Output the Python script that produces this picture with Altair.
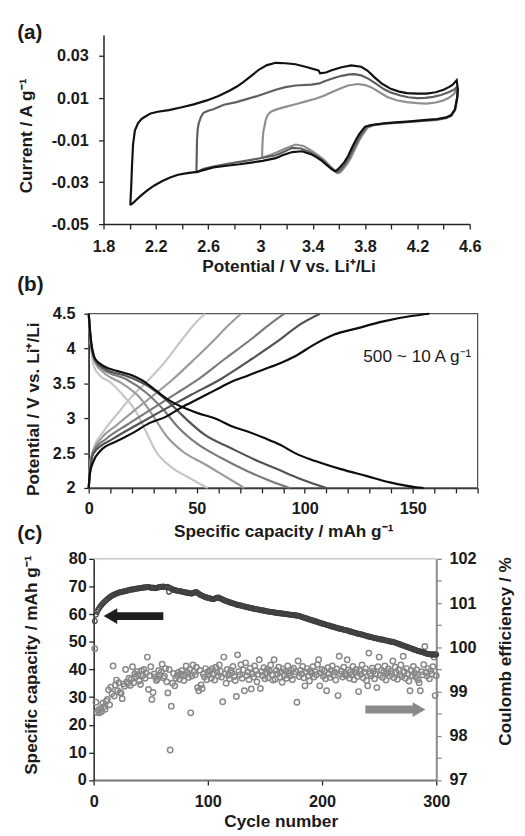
import altair as alt
import pandas as pd

W, H = 517, 828
FONT = "Liberation Sans"
TXT = "#1a1a1a"

# ---------------- (a) cyclic voltammetry ----------------
a_loops = ["3.0-4.5 V", "2.5-4.5 V", "2.0-4.5 V"]
a_colors = ["#8f8f8f", "#5f5f5f", "#111111"]

a_v_20 = [2.005, 2.012, 2.018, 2.026, 2.04, 2.063, 2.09, 2.114, 2.16, 2.214, 2.30, 2.39, 2.49, 2.59,
          2.68, 2.766, 2.82, 2.866, 2.93, 2.99, 3.05, 3.117, 3.19, 3.268, 3.35, 3.443, 3.456, 3.50,
          3.544, 3.62, 3.694, 3.77, 3.82, 3.87, 3.93, 3.996, 4.06, 4.12, 4.20, 4.27, 4.34, 4.40,
          4.44, 4.47, 4.50,
          4.51, 4.505, 4.485, 4.455, 4.42, 4.35, 4.27, 4.12, 4.03, 3.945, 3.845, 3.80, 3.78, 3.755,
          3.73, 3.70, 3.67, 3.64, 3.606, 3.585, 3.57, 3.544, 3.51, 3.47, 3.43, 3.39, 3.318, 3.243,
          3.168, 3.117, 3.017, 2.93, 2.84, 2.74, 2.64, 2.515, 2.44, 2.37, 2.314, 2.25, 2.189, 2.14,
          2.088, 2.05, 2.025, 2.013, 2.005]
a_i_20 = [-0.0410, -0.0320, -0.0220, -0.0120, -0.0055, -0.0020, 0.0000, 0.0010, 0.0027, 0.0035,
          0.0043, 0.0055, 0.0070, 0.0089, 0.0110, 0.0136, 0.0155, 0.0175, 0.0206, 0.0236, 0.0257,
          0.0268, 0.0266, 0.0261, 0.0248, 0.0232, 0.0218, 0.0222, 0.0233, 0.0247, 0.0256, 0.0249,
          0.0230, 0.0200, 0.0168, 0.0144, 0.0131, 0.0124, 0.0121, 0.0121, 0.0128, 0.0140, 0.0152,
          0.0164, 0.0185,
          0.0140, 0.0105, 0.0043, 0.0018, 0.0008, 0.0000, -0.0004, -0.0012, -0.0016, -0.0020,
          -0.0028, -0.0036, -0.0051, -0.0072, -0.0098, -0.0135, -0.0176, -0.0206, -0.0230, -0.0243,
          -0.0247, -0.0238, -0.0220, -0.0199, -0.0182, -0.0168, -0.0153, -0.0157, -0.0172, -0.0186,
          -0.0199, -0.0207, -0.0215, -0.0222, -0.0230, -0.0251, -0.0257, -0.0265, -0.0277, -0.0295,
          -0.0316, -0.0337, -0.0363, -0.0385, -0.0400, -0.0405, -0.0410]

a_v_25 = [2.51, 2.512, 2.515, 2.52, 2.528, 2.545, 2.565, 2.60, 2.64, 2.72, 2.816, 2.967, 3.05, 3.117,
          3.19, 3.268, 3.39, 3.45, 3.49, 3.55, 3.62, 3.68, 3.72, 3.77, 3.82, 3.88, 3.945, 4.00, 4.07,
          4.13, 4.196, 4.26, 4.32, 4.38, 4.447, 4.48, 4.50,
          4.505, 4.49, 4.46, 4.42, 4.35, 4.27, 4.12, 3.96, 3.86, 3.81, 3.79, 3.765, 3.74, 3.71, 3.68,
          3.65, 3.62, 3.597, 3.582, 3.56, 3.52, 3.48, 3.43, 3.38, 3.31, 3.243, 3.18, 3.117, 3.017,
          2.93, 2.84, 2.74, 2.64, 2.56, 2.51]
a_i_25 = [-0.0254, -0.0200, -0.0098, -0.0050, -0.0020, 0.0010, 0.0030, 0.0040, 0.0047, 0.0068,
          0.0081, 0.0108, 0.0125, 0.0140, 0.0152, 0.0160, 0.0164, 0.0170, 0.0180, 0.0193, 0.0206,
          0.0213, 0.0214, 0.0208, 0.0194, 0.0170, 0.0142, 0.0126, 0.0112, 0.0104, 0.0100, 0.0101,
          0.0106, 0.0115, 0.0130, 0.0140, 0.0152,
          0.0110, 0.0050, 0.0018, 0.0006, -0.0002, -0.0006, -0.0014, -0.0021, -0.0028, -0.0038,
          -0.0055, -0.0078, -0.0105, -0.0142, -0.0182, -0.0212, -0.0236, -0.0250, -0.0254, -0.0244,
          -0.0222, -0.0198, -0.0176, -0.0158, -0.0140, -0.0137, -0.0155, -0.0172, -0.0184, -0.0194,
          -0.0204, -0.0214, -0.0226, -0.0238, -0.0254]

a_v_30 = [3.012, 3.014, 3.017, 3.022, 3.03, 3.04, 3.055, 3.08, 3.117, 3.19, 3.268, 3.34, 3.42, 3.48,
          3.544, 3.61, 3.67, 3.744, 3.80, 3.845, 3.91, 3.97, 4.04, 4.12, 4.20, 4.27, 4.34, 4.40, 4.45,
          4.48, 4.50,
          4.505, 4.49, 4.46, 4.42, 4.35, 4.27, 4.12, 3.96, 3.87, 3.82, 3.80, 3.775, 3.75, 3.72, 3.69,
          3.66, 3.63, 3.61, 3.594, 3.57, 3.53, 3.49, 3.44, 3.39, 3.33, 3.268, 3.19, 3.117, 3.06, 3.012]
a_i_30 = [-0.0184, -0.0140, -0.0098, -0.0060, -0.0036, -0.0005, 0.0019, 0.0035, 0.0045, 0.0058,
          0.0071, 0.0083, 0.0097, 0.0110, 0.0128, 0.0146, 0.0160, 0.0167, 0.0162, 0.0152, 0.0128,
          0.0105, 0.0090, 0.0081, 0.0076, 0.0074, 0.0079, 0.0089, 0.0105, 0.0121, 0.0140,
          0.0100, 0.0045, 0.0015, 0.0004, -0.0004, -0.0008, -0.0015, -0.0022, -0.0029, -0.0040,
          -0.0058, -0.0080, -0.0108, -0.0146, -0.0186, -0.0216, -0.0240, -0.0253, -0.0257, -0.0246,
          -0.0222, -0.0196, -0.0172, -0.0150, -0.0128, -0.0121, -0.0140, -0.0160, -0.0174, -0.0184]

a_xticks = [1.8, 2.0, 2.2, 2.4, 2.6, 2.8, 3.0, 3.2, 3.4, 3.6, 3.8, 4.0, 4.2, 4.4, 4.6]
a_yticks = [-0.05, -0.03, -0.01, 0.01, 0.03]

# ---------------- (b) charge / discharge ----------------
b_rates = ["r1", "r2", "r3", "r4", "r5"]
b_colors = ["#c6c6c6", "#9c9c9c", "#7a7a7a", "#525252", "#0d0d0d"]

b_c1_cap = [0, 0.4, 0.8, 2.3, 6.8, 12.9, 20.5, 28, 35.6, 43.2, 49.2, 53.8]
b_c1_v = [2.0, 2.2, 2.39, 2.57, 2.81, 3.05, 3.33, 3.56, 3.82, 4.13, 4.36, 4.5]
b_c2_cap = [0, 0.6, 2, 6, 12.9, 21, 30, 39, 48, 58.3, 64.5, 70.5]
b_c2_v = [2.0, 2.27, 2.52, 2.72, 2.90, 3.11, 3.33, 3.56, 3.82, 4.13, 4.33, 4.5]
b_c3_cap = [0, 0.8, 2.3, 8.3, 17.4, 28, 40.2, 50.8, 62.9, 75, 83, 90.5]
b_c3_v = [2.0, 2.3, 2.53, 2.71, 2.90, 3.11, 3.35, 3.56, 3.85, 4.13, 4.33, 4.5]
b_c4_cap = [0, 0.7, 2.3, 11.5, 22, 34, 47, 61, 74, 88.6, 97, 107]
b_c4_v = [2.0, 2.28, 2.5, 2.71, 2.90, 3.11, 3.33, 3.56, 3.82, 4.13, 4.33, 4.5]
b_c5_cap = [0, 0.5, 2.3, 5.3, 12.9, 20.5, 28, 35.6, 43.2, 50.8, 58.3, 65.9, 73.5, 81, 88.6, 95.5,
            104.5, 113.6, 124.2, 136.4, 150, 157.6]
b_c5_v = [2.0, 2.2, 2.39, 2.53, 2.67, 2.79, 2.93, 3.02, 3.16, 3.28, 3.40, 3.52, 3.61, 3.70, 3.79,
          3.89, 4.06, 4.20, 4.29, 4.39, 4.47, 4.5]

b_d1_cap = [0, 0.8, 2.3, 5.3, 9.8, 15.9, 22, 26.5, 31, 38.6, 46.2, 53.8, 55]
b_d1_v = [4.5, 4.13, 3.75, 3.61, 3.52, 3.33, 3.09, 2.81, 2.53, 2.29, 2.15, 2.02, 2.0]
b_d2_cap = [0, 1, 3, 6.8, 15.9, 23.5, 29.5, 35.6, 43.2, 53.8, 62.9, 72]
b_d2_v = [4.5, 4.05, 3.8, 3.66, 3.49, 3.30, 3.05, 2.76, 2.53, 2.34, 2.17, 2.0]
b_d3_cap = [0, 1, 3, 6.8, 17.4, 26.5, 34.1, 41.7, 50.8, 61.4, 73.5, 84.1, 93]
b_d3_v = [4.5, 4.08, 3.82, 3.70, 3.56, 3.37, 3.14, 2.86, 2.62, 2.43, 2.24, 2.10, 2.0]
b_d4_cap = [0, 1, 3, 6.8, 18.9, 28, 37.1, 44.7, 53.8, 65.9, 78, 88, 98, 110]
b_d4_v = [4.5, 4.1, 3.84, 3.72, 3.59, 3.45, 3.23, 3.00, 2.76, 2.57, 2.39, 2.26, 2.13, 2.0]
b_d5_cap = [0, 1, 3, 6.8, 12.9, 20.5, 25, 31, 37.1, 43.2, 50.8, 58.3, 65.9, 73.5, 81, 88.6, 95.5,
            104.5, 116.7, 128.8, 139.4, 151.5, 155]
b_d5_v = [4.5, 4.13, 3.85, 3.75, 3.68, 3.61, 3.54, 3.40, 3.26, 3.16, 3.07, 3.00, 2.89, 2.81, 2.72,
          2.62, 2.50, 2.39, 2.27, 2.17, 2.08, 2.01, 2.0]

b_xticks = [0, 10, 20, 30, 40, 50, 60, 70, 80, 90, 100, 110, 120, 130, 140, 150, 160, 170, 180]
b_yticks = [2.0, 2.5, 3.0, 3.5, 4.0, 4.5]

# ---------------- (c) cycling ----------------
c_capacity = [
    57.5, 59.8, 60.8, 61.6, 62.3, 62.9, 63.4, 63.9, 64.3, 64.7,
    65.1, 65.4, 65.8, 66.1, 66.4, 66.7, 66.9, 67.1, 67.3, 67.5,
    67.6, 67.8, 67.9, 68.0, 68.1, 68.2, 68.3, 68.4, 68.5, 68.6,
    68.7, 68.8, 68.9, 69.0, 69.0, 69.1, 69.2, 69.3, 69.3, 69.4,
    69.5, 69.5, 69.6, 69.6, 69.7, 69.7, 69.8, 69.8, 69.7, 69.6,
    69.5, 69.6, 69.5, 69.4, 69.5, 69.6, 69.7, 69.8, 69.9, 69.9,
    70.0, 69.9, 69.8, 69.7, 69.9, 68.1, 69.5, 69.2, 69.0, 68.8,
    68.7, 68.6, 68.5, 68.4, 68.3, 68.3, 68.2, 68.1, 68.0, 67.9,
    67.8, 67.7, 67.7, 67.6, 67.5, 67.5, 67.6, 67.8, 67.9, 68.0,
    67.7, 67.4, 67.1, 66.9, 66.7, 66.5, 66.3, 66.2, 66.0, 65.9,
    65.8, 65.7, 65.6, 65.5, 65.5, 65.6, 65.8, 65.9, 66.0, 65.9,
    65.7, 65.5, 65.3, 65.1, 64.9, 64.8, 64.6, 64.5, 64.3, 64.2,
    64.0, 63.9, 63.8, 63.6, 63.5, 63.4, 63.3, 63.2, 63.1, 63.0,
    62.9, 62.8, 62.7, 62.6, 62.5, 62.4, 62.3, 62.2, 62.1, 62.0,
    61.9, 61.8, 61.8, 61.7, 61.6, 61.5, 61.4, 61.4, 61.3, 61.2,
    61.1, 61.0, 61.0, 60.9, 60.8, 60.8, 60.7, 60.6, 60.6, 60.5,
    60.4, 60.4, 60.3, 60.3, 60.2, 60.2, 60.1, 60.1, 60.0, 60.0,
    59.9, 59.8, 59.8, 59.7, 59.7, 59.6, 59.6, 59.5, 59.4, 59.3,
    59.2, 59.0, 58.9, 58.8, 58.6, 58.5, 58.4, 58.2, 58.1, 58.0,
    57.8, 57.7, 57.6, 57.4, 57.3, 57.2, 57.0, 56.9, 56.8, 56.6,
    56.5, 56.4, 56.3, 56.1, 56.0, 55.9, 55.8, 55.6, 55.5, 55.4,
    55.3, 55.2, 55.0, 54.9, 54.8, 54.7, 54.6, 54.5, 54.4, 54.3,
    54.2, 54.1, 54.0, 53.8, 53.7, 53.6, 53.5, 53.4, 53.2, 53.1,
    53.0, 52.9, 52.8, 52.7, 52.6, 52.5, 52.4, 52.2, 52.1, 52.0,
    51.9, 51.8, 51.7, 51.6, 51.5, 51.4, 51.3, 51.2, 51.1, 51.0,
    50.9, 50.8, 50.8, 50.7, 50.6, 50.5, 50.4, 50.3, 50.2, 50.1,
    50.0, 50.0, 49.9, 49.7, 49.6, 49.4, 49.3, 49.1, 49.0, 48.8,
    48.7, 48.5, 48.4, 48.2, 48.1, 47.9, 47.8, 47.6, 47.5, 47.3,
    47.2, 47.0, 46.9, 46.7, 46.6, 46.5, 46.4, 46.3, 46.1, 46.0,
    45.8, 45.7, 45.6, 45.5, 45.5, 45.4, 45.4, 45.5, 45.4, 45.4,
]
c_efficiency = [
    99.97, 98.76, 98.53, 98.58, 98.52, 98.62, 98.55, 98.74, 98.66, 98.60,
    98.78, 98.82, 99.04, 98.70, 99.10, 98.95, 99.58, 98.90, 99.15, 99.26,
    99.02, 99.20, 98.98, 98.96, 98.84, 99.17, 99.12, 99.50, 99.22, 99.18,
    99.30, 99.14, 99.28, 99.56, 99.20, 99.40, 99.34, 99.45, 99.38, 99.24,
    99.16, 99.47, 99.36, 99.50, 99.30, 99.42, 99.78, 99.05, 99.36, 99.56,
    98.82, 98.98, 99.40, 99.33, 99.25, 99.29, 99.48, 99.37, 99.44, 99.62,
    99.31, 99.35, 99.52, 99.22, 98.97, 99.50, 97.68, 98.67, 99.19, 99.41,
    99.13, 99.30, 99.36, 99.43, 99.28, 99.40, 99.47, 99.35, 99.25, 99.38,
    99.58, 99.44, 99.32, 99.50, 98.52, 99.35, 99.60, 99.45, 99.38, 99.55,
    99.09, 99.02, 99.48, 99.15, 99.07, 99.40, 99.33, 99.52, 99.27, 99.45,
    99.38, 99.47, 99.30, 99.52, 99.41, 99.26, 99.55, 99.44, 99.35, 99.60,
    99.46, 99.33, 98.77, 99.78, 99.40, 99.19, 99.50, 99.37, 99.29, 99.48,
    99.42, 99.57, 99.34, 99.25, 98.89, 99.83, 99.45, 99.38, 99.61, 99.30,
    99.49, 99.02, 99.65, 99.36, 99.44, 99.27, 99.53, 99.06, 99.40, 99.33,
    99.58, 99.47, 99.22, 99.39, 99.72, 99.07, 99.45, 99.36, 99.54, 99.29,
    99.43, 99.50, 99.31, 99.46, 99.60, 99.38, 99.26, 99.72, 99.28, 99.48,
    99.40, 99.55, 99.33, 99.44, 99.21, 99.51, 99.37, 99.46, 99.30, 99.58,
    99.42, 99.35, 99.49, 99.27, 99.53, 99.39, 99.45, 98.76, 99.69, 99.34,
    99.48, 99.40, 99.57, 99.31, 99.13, 99.44, 99.52, 99.36, 99.24, 99.47,
    99.41, 99.56, 99.33, 99.45, 99.38, 99.61, 99.72, 99.13, 99.42, 99.50,
    99.35, 99.47, 99.29, 99.02, 99.54, 99.40, 99.32, 99.48, 99.58, 99.37,
    99.44, 99.26, 99.51, 98.91, 99.80, 99.39, 99.46, 99.33, 99.55, 99.41,
    99.36, 99.72, 99.49, 99.30, 99.45, 99.38, 99.57, 99.27, 99.43, 99.50,
    99.34, 99.00, 99.47, 99.39, 99.60, 99.31, 99.44, 99.52, 99.25, 99.13,
    99.87, 99.41, 99.36, 99.53, 99.46, 99.29, 99.40, 99.09, 99.56, 99.78,
    99.37, 99.48, 99.32, 99.44, 99.58, 99.26, 99.42, 99.51, 99.35, 99.46,
    99.39, 99.69, 99.31, 99.55, 99.43, 99.28, 99.49, 99.38, 99.60, 99.34,
    99.80, 99.45, 99.30, 99.52, 99.40, 99.24, 99.02, 99.47, 99.36, 99.57,
    99.42, 99.33, 99.49, 99.27, 99.20, 99.02, 99.45, 99.38, 99.61, 100.02,
    99.43, 99.35, 99.52, 99.29, 99.47, 99.40, 99.56, 99.78, 98.91, 99.36,
]
c_xticks = [0, 100, 200, 300]
c_yticks = [0, 10, 20, 30, 40, 50, 60, 70, 80]
c_rticks = [97, 97.5, 98, 98.5, 99, 99.5, 100, 100.5, 101, 101.5, 102]

assert len(c_capacity) == 300 and len(c_efficiency) == 300

# ---------------- tables ----------------
rows = []
for name, vs, cs in zip(a_loops, [a_v_30, a_v_25, a_v_20], [a_i_30, a_i_25, a_i_20]):
    for k, (v, c) in enumerate(zip(vs, cs)):
        rows.append({"loop": name, "idx": k, "V": v, "I": c})
df_a = pd.DataFrame(rows)

rows = []
b_charge = [(b_c1_cap, b_c1_v), (b_c2_cap, b_c2_v), (b_c3_cap, b_c3_v), (b_c4_cap, b_c4_v), (b_c5_cap, b_c5_v)]
b_dis = [(b_d1_cap, b_d1_v), (b_d2_cap, b_d2_v), (b_d3_cap, b_d3_v), (b_d4_cap, b_d4_v), (b_d5_cap, b_d5_v)]
for r, (ch, dc) in enumerate(zip(b_charge, b_dis)):
    for kind, (caps, vs) in (("charge", ch), ("discharge", dc)):
        for k, (q, v) in enumerate(zip(caps, vs)):
            rows.append({"rate": b_rates[r], "curve": b_rates[r] + kind, "idx": k, "cap": q, "V": v})
df_b = pd.DataFrame(rows)

df_c = pd.DataFrame({"cycle": list(range(1, 301)), "capacity": c_capacity, "ce": c_efficiency})

# ---------------- scales (pixel ranges place the three panels) ----------------
def sc(domain, rng):
    return alt.Scale(domain=domain, range=rng, nice=False, zero=False)

a_xs = sc([1.8, 4.6], [97, 469])
a_ys = sc([-0.05, 0.04], [213, 21])
b_xs = sc([0, 180], [82, 477])
b_ys = sc([2.0, 4.5], [481, 304])
c_xs = sc([0, 300], [87, 435])
c_yl = sc([0, 80], [777.7, 553])
c_yr = sc([97, 102], [777.7, 553])


def ax(**kw):
    base = dict(grid=False, domainColor="#222222", domainWidth=1.5, tickColor="#222222",
                tickWidth=1.3, tickSize=5, labelFont=FONT, labelFontSize=16.5,
                labelFontWeight="bold", labelColor=TXT, titleFont=FONT, titleFontSize=17.5,
                titleFontWeight="bold", titleColor=TXT, labelOverlap=False, labelFlush=False,
                titleAlign="center")
    base.update(kw)
    return alt.Axis(**base)


neg_fmt = "datum.value < 0 ? '-' + format(-datum.value, '.2f') : format(datum.value, '.2f')"

# panel (a)
a_lines = alt.Chart(df_a).mark_line(strokeWidth=2.2, interpolate="linear").encode(
    x=alt.X("V:Q", scale=a_xs, axis=ax(
        orient="bottom", offset=213 - H, values=a_xticks, labelPadding=10,
        labelExpr="round(datum.value*10) % 4 == 2 ? format(datum.value, '~g') : ''",
        title="Potential / V vs. Li⁺/Li", titleX=285, titleY=48, titleAngle=0,
        titleBaseline="alphabetic")),
    y=alt.Y("I:Q", scale=a_ys, axis=ax(
        orient="left", offset=-97, values=a_yticks, labelPadding=10.5, labelExpr=neg_fmt,
        title="Current / A g⁻¹", titleX=-78, titleY=123, titleAngle=270,
        titleBaseline="middle")),
    color=alt.Color("loop:N", scale=alt.Scale(domain=a_loops, range=a_colors), legend=None),
    order=alt.Order("idx:Q"),
)

# panel (b)
b_frame = alt.Chart(pd.DataFrame({"x0": [0], "x1": [180], "y0": [2.0], "y1": [4.5]})).mark_rect(
    fillOpacity=0, stroke="#555555", strokeWidth=1.3).encode(
    x=alt.X("x0:Q", scale=b_xs, axis=None), x2="x1:Q",
    y=alt.Y("y0:Q", scale=b_ys, axis=None), y2="y1:Q")

b_lines = alt.Chart(df_b).mark_line(strokeWidth=2.2, interpolate="monotone").encode(
    x=alt.X("cap:Q", scale=b_xs, axis=ax(
        orient="bottom", offset=481 - H, values=b_xticks, labelPadding=8,
        labelExpr="datum.value % 50 == 0 ? format(datum.value, 'd') : ''",
        title="Specific capacity / mAh g⁻¹", titleX=279.5, titleY=49, titleAngle=0,
        titleBaseline="alphabetic")),
    y=alt.Y("V:Q", scale=b_ys, axis=ax(
        orient="left", offset=-82, values=b_yticks, labelPadding=9,
        labelExpr="format(datum.value, '~g')",
        title="Potential / V vs. Li⁺/Li", titleX=-56, titleY=400.5, titleAngle=270,
        titleBaseline="middle")),
    color=alt.Color("rate:N", scale=alt.Scale(domain=b_rates, range=b_colors), legend=None),
    detail="curve:N",
    order=alt.Order("idx:Q"),
)

# panel (c)
c_top = alt.Chart(pd.DataFrame({"x0": [0], "x1": [300], "y": [80]})).mark_rule(
    color="#c8c8c8", strokeWidth=1.5).encode(
    x=alt.X("x0:Q", scale=c_xs, axis=None), x2="x1:Q",
    y=alt.Y("y:Q", scale=c_yl, axis=None))

c_ce = alt.Chart(df_c).mark_point(shape="circle", filled=False, size=30, strokeWidth=1.5,
                                  color="#888888", opacity=1).encode(
    x=alt.X("cycle:Q", scale=c_xs, axis=None),
    y=alt.Y("ce:Q", scale=c_yr, axis=ax(
        orient="right", offset=435 - W, values=c_rticks, labelPadding=8,
        domainColor="#8a8a8a", tickColor="#8a8a8a", domainWidth=2,
        labelExpr="datum.value % 1 == 0 ? format(datum.value, 'd') : ''",
        title="Coulomb efficiency / %", titleX=70.5, titleY=646.5, titleAngle=270,
        titleBaseline="middle")),
)

c_cap = alt.Chart(df_c).mark_point(shape="circle", filled=False, size=24, strokeWidth=1.2,
                                   color="#404040", opacity=1).encode(
    x=alt.X("cycle:Q", scale=c_xs, axis=ax(
        orient="bottom", offset=777.7 - H, values=c_xticks, labelPadding=9,
        domainColor="#777777", domainWidth=2, format="d",
        title="Cycle number", titleX=277, titleY=47.3, titleAngle=0,
        titleBaseline="alphabetic")),
    y=alt.Y("capacity:Q", scale=c_yl, axis=ax(
        orient="left", offset=-87, values=c_yticks, labelPadding=2.5, format="d",
        title="Specific capacity / mAh g⁻¹", titleX=-63.5, titleY=660.5, titleAngle=270,
        titleBaseline="middle")),
)

# arrows (annotation) in panel (c)
arr_black = pd.DataFrame({"x0": [17], "x1": [61], "y": [59.3], "tip": [14.7]})
arr_gray = pd.DataFrame({"x0": [237.9], "x1": [283], "y": [25.5], "tip": [284.9]})

c_arrow1 = alt.Chart(arr_black).mark_rule(color="#1e1e1e", strokeWidth=8, strokeCap="butt").encode(
    x=alt.X("x0:Q", scale=c_xs, axis=None), x2="x1:Q", y=alt.Y("y:Q", scale=c_yl, axis=None))
c_head1 = alt.Chart(arr_black).mark_point(shape="triangle-left", filled=True, size=256,
                                          color="#1e1e1e", opacity=1).encode(
    x=alt.X("tip:Q", scale=c_xs, axis=None), y=alt.Y("y:Q", scale=c_yl, axis=None))
c_arrow2 = alt.Chart(arr_gray).mark_rule(color="#8a8a8a", strokeWidth=8, strokeCap="butt").encode(
    x=alt.X("x0:Q", scale=c_xs, axis=None), x2="x1:Q", y=alt.Y("y:Q", scale=c_yl, axis=None))
c_head2 = alt.Chart(arr_gray).mark_point(shape="triangle-right", filled=True, size=225,
                                         color="#8a8a8a", opacity=1).encode(
    x=alt.X("tip:Q", scale=c_xs, axis=None), y=alt.Y("y:Q", scale=c_yl, axis=None))


def label(txt, x, y, size, weight, align="left"):
    return alt.Chart(pd.DataFrame({"t": [txt]})).mark_text(
        font=FONT, fontSize=size, fontWeight=weight, color=TXT, align=align,
        baseline="alphabetic").encode(text="t:N", x=alt.value(x), y=alt.value(y))


texts = [
    label("(a)", 9.3, 25, 21, "bold"),
    label("(b)", 9.3, 281, 21, "bold"),
    label("(c)", 9.3, 534.3, 21, "bold"),
    label("500 ~ 10 A g⁻¹", 415.7, 353, 17.5, "normal", "center"),
]

chart = alt.layer(
    a_lines, b_frame, b_lines, c_top, c_ce, c_cap, c_arrow1, c_head1, c_arrow2, c_head2, *texts
).resolve_scale(
    x="independent", y="independent", color="independent"
).properties(
    width=W, height=H, padding=0, autosize=alt.AutoSizeParams(type="none")
).configure_view(stroke="transparent")

chart.save("out.html", embed_options={"renderer": "svg", "actions": False})
